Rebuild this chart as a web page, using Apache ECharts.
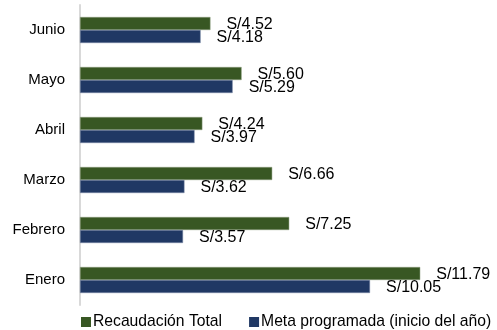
<!DOCTYPE html>
<html>
<head>
<meta charset="utf-8">
<script src="https://cdn.jsdelivr.net/npm/echarts@6/dist/echarts.min.js"></script>
<style>
  html, body { margin: 0; padding: 0; background: #ffffff; }
  #chart { width: 497px; height: 330px; }
</style>
</head>
<body>
<div id="chart"></div>
<script>
// Months, bottom to top on the category axis
const months = ['Enero', 'Febrero', 'Marzo', 'Abril', 'Mayo', 'Junio'];
// Collected revenue per month
const recaudacionTotal = [11.79, 7.25, 6.66, 4.24, 5.60, 4.52];
// Target set at the start of the year
const metaProgramada = [10.05, 3.57, 3.62, 3.97, 5.29, 4.18];

const seriesNames = ['Recaudación Total', 'Meta programada (inicio del año)'];
const FONT = '"Liberation Sans", Arial, sans-serif';

const chart = echarts.init(document.getElementById('chart'), null, { renderer: 'canvas' });

const labelCfg = {
  show: true,
  position: 'right',
  distance: 16,
  offset: [0, 1],
  color: '#000000',
  fontSize: 16,
  fontFamily: FONT,
  formatter: p => 'S/' + p.value.toFixed(2)
};

chart.setOption({
  animation: false,
  grid: { left: 80, right: 13, top: 5, bottom: 25, containLabel: false },
  legend: {
    left: 81,
    top: 314,
    width: 600,
    padding: 0,
    itemWidth: 10,
    itemHeight: 10,
    itemGap: 27,
    icon: 'rect',
    itemStyle: { borderWidth: 0 },
    textStyle: { fontSize: 15.7, fontFamily: FONT, color: '#000000', padding: [0, 0, 0, -3] },
    data: seriesNames
  },
  xAxis: {
    type: 'value',
    min: 0,
    max: 14,
    show: false
  },
  yAxis: {
    type: 'category',
    data: months,
    axisLine: { show: true, lineStyle: { color: '#d9d9d9', width: 2 } },
    axisTick: { show: false },
    axisLabel: { fontSize: 15, fontFamily: FONT, color: '#000000', margin: 15 }
  },
  series: [
    {
      name: seriesNames[0],
      type: 'bar',
      data: recaudacionTotal,
      barWidth: 13,
      barGap: '0%',
      itemStyle: { color: '#385723', borderColor: '#8a9c7c', borderWidth: 0.5 },
      label: labelCfg
    },
    {
      name: seriesNames[1],
      type: 'bar',
      data: metaProgramada,
      barWidth: 13,
      barGap: '0%',
      itemStyle: { color: '#203864', borderColor: '#7f8ca8', borderWidth: 0.5 },
      label: labelCfg
    }
  ]
});
</script>
</body>
</html>
